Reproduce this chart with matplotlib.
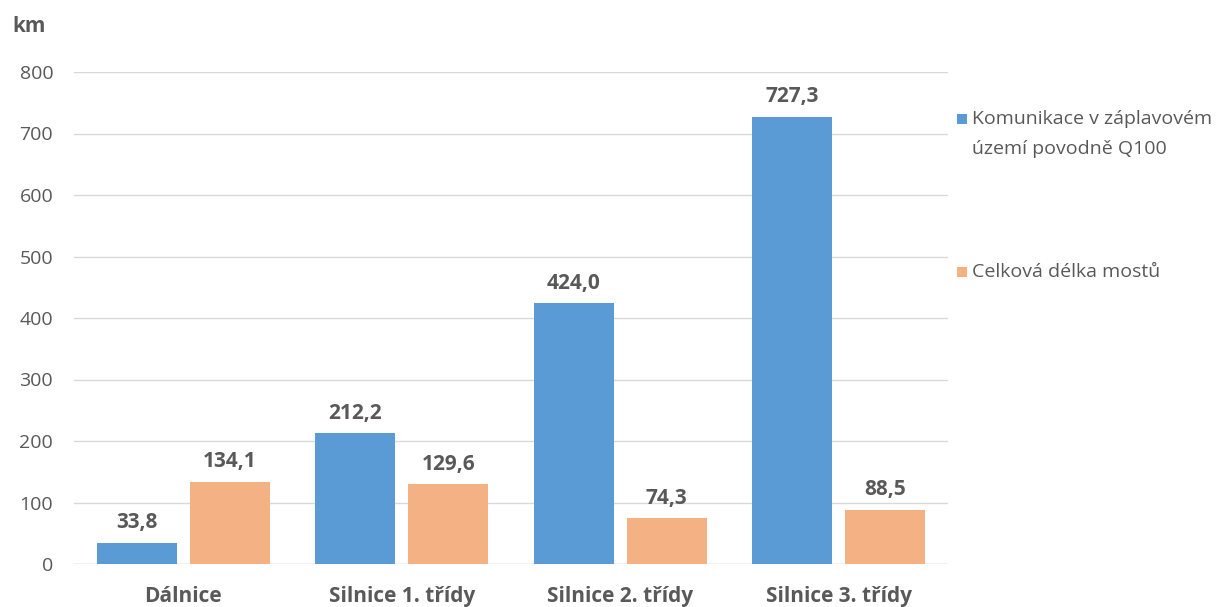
import matplotlib
matplotlib.use("Agg")
import matplotlib.pyplot as plt
from matplotlib.patches import Rectangle
import numpy as np

categories = ["Dálnice", "Silnice 1. třídy", "Silnice 2. třídy", "Silnice 3. třídy"]
flood_roads = [33.8, 212.2, 424.0, 727.3]
bridges = [134.1, 129.6, 74.3, 88.5]
series_names = ["Komunikace v záplavovém\núzemí povodně Q100", "Celková délka mostů"]
y_ticks = [0, 100, 200, 300, 400, 500, 600, 700, 800]

BLUE = "#5B9BD5"
ORANGE = "#F4B183"
TEXT = "#595959"
GRID = "#D9D9D9"

plt.rcParams["font.family"] = ["Open Sans", "DejaVu Sans"]

W, H = 1216, 607
fig = plt.figure(figsize=(W / 100, H / 100), dpi=100)
ax = fig.add_axes([74 / W, 1 - 564 / H, 874 / W, 492 / H])

x = np.arange(len(categories))
width = 0.366
offset = 0.213

b1 = ax.bar(x - offset, flood_roads, width, color=BLUE, label=series_names[0], zorder=3)
b2 = ax.bar(x + offset, bridges, width, color=ORANGE, label=series_names[1], zorder=3)

def fmt(v):
    return f"{v:.1f}".replace(".", ",")

for bars, vals in ((b1, flood_roads), (b2, bridges)):
    for rect, v in zip(bars, vals):
        ax.annotate(fmt(v), (rect.get_x() + rect.get_width() / 2, v),
                    xytext=(0, 7), textcoords="offset points",
                    ha="center", va="bottom", fontsize=15,
                    fontweight="bold", color=TEXT)

ax.set_xlim(-0.5, len(categories) - 0.5)
ax.set_ylim(0, 800)
ax.set_yticks(y_ticks)
ax.set_yticklabels([str(t) for t in y_ticks])
ax.set_xticks(x)
ax.set_xticklabels(categories, fontsize=15, fontweight="bold", color=TEXT)
ax.tick_params(axis="y", length=0, pad=15, labelsize=14, labelcolor=TEXT)
ax.tick_params(axis="x", length=0, pad=16)
ax.grid(axis="y", color=GRID, linewidth=1, zorder=0)
for s in ax.spines.values():
    s.set_visible(False)
ax.axhline(0, color=GRID, linewidth=1, zorder=2)

fig.text(12 / W, 1 - 32 / H, "km", fontsize=15, fontweight="bold", color=TEXT,
         ha="left", va="baseline")

# legend on the right: colour square followed by the series name
legend_rows = [(series_names[0], BLUE, 124), (series_names[1], ORANGE, 277)]
line_step = 30
for name, color, base in legend_rows:
    fig.patches.append(Rectangle((957 / W, 1 - base / H), 10 / W, 10 / H,
                                 transform=fig.transFigure, facecolor=color,
                                 edgecolor="none"))
    for i, line in enumerate(name.split("\n")):
        fig.text(972 / W, 1 - (base + i * line_step) / H, line, fontsize=14,
                 color=TEXT, ha="left", va="baseline")

fig.savefig("out.png", dpi=100)
